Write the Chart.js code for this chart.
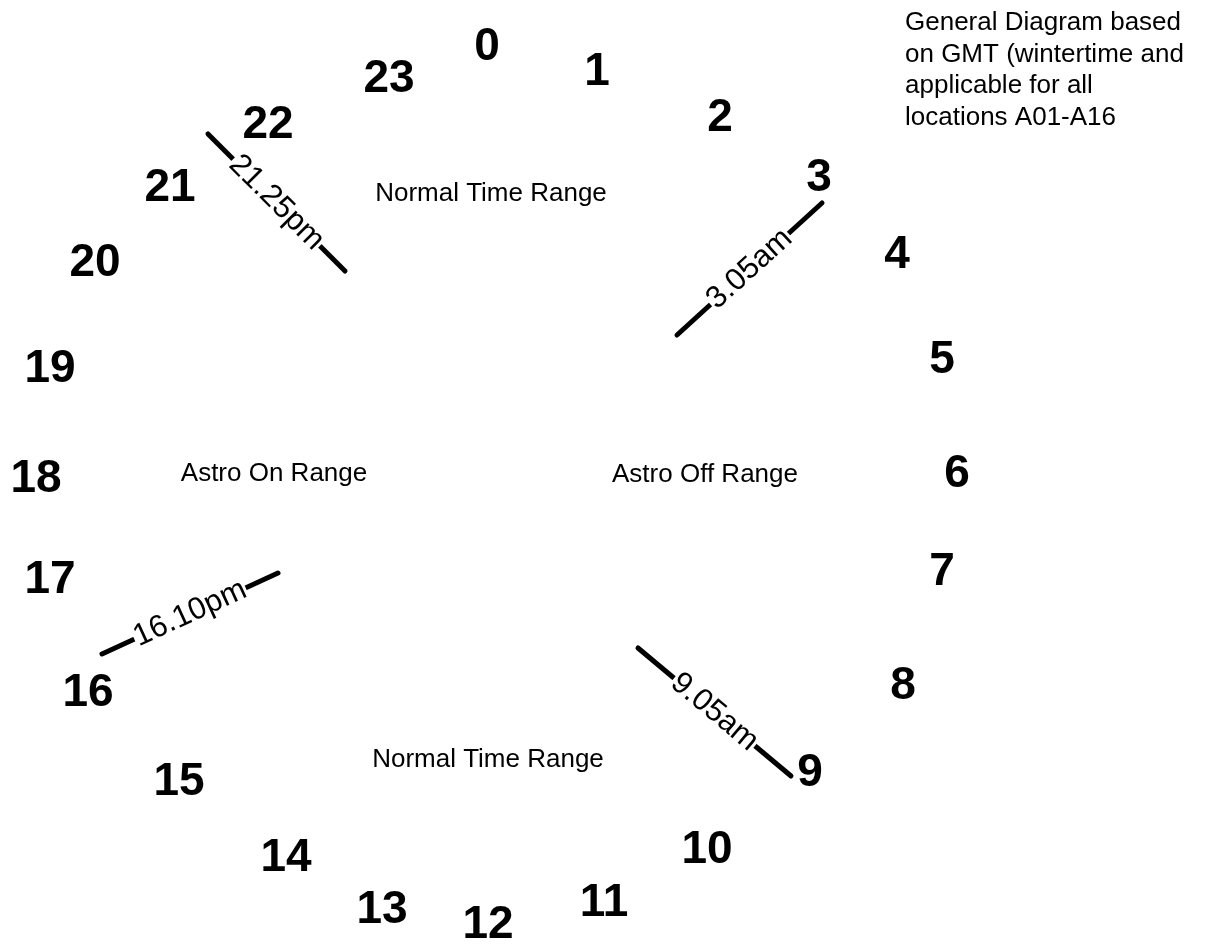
<!DOCTYPE html>
<html>
<head>
<meta charset="utf-8">
<title>Astro clock</title>
<script src="https://cdn.jsdelivr.net/npm/chart.js@4.4.1/dist/chart.umd.min.js"></script>
<style>
    html, body { margin: 0; padding: 0; background: #ffffff; }
    #wrap { position: relative; width: 1206px; height: 947px; }
</style>
</head>
<body>
<div id="wrap"><canvas id="clock-chart"></canvas></div>
<script>
const FONT = '"Liberation Sans", Arial, sans-serif';

// hour numbers round the dial (diagram units, y grows downwards)
const hourLabels = ['0', '1', '2', '3', '4', '5', '6', '7', '8', '9', '10', '11',
    '12', '13', '14', '15', '16', '17', '18', '19', '20', '21', '22', '23'];
const hourX = [487, 597, 720, 819, 897, 942, 957, 942, 903, 810, 707, 604,
    488, 382, 286, 179, 88, 50, 36, 50, 95, 170, 268, 389];
const hourY = [47, 72, 118, 178, 255, 360, 474, 572, 686, 773, 850, 903,
    925, 910, 858, 782, 693, 580, 479, 369, 263, 188, 125, 79];

// switch-over marks
const switchLabels = ['21.25pm', '3.05am', '16.10pm', '9.05am'];
const switchStartX = [208, 677, 102, 638];
const switchStartY = [134, 335, 654, 648];
const switchEndX = [345, 822, 278, 791];
const switchEndY = [271, 203, 573, 776];

// range names inside the dial
const rangeLabels = ['Normal Time Range', 'Astro On Range', 'Astro Off Range', 'Normal Time Range'];
const rangeX = [491, 274, 705, 488];
const rangeY = [194, 474, 475, 760];

const noteLines = ['General Diagram based', 'on GMT (wintertime and', 'applicable for all', 'locations A01-A16'];
const noteX = 905;
const noteY = [23, 54.5, 86, 117.5];

const hourPoints = hourLabels.map((h, i) => ({ x: hourX[i], y: hourY[i] }));

const switchDatasets = switchLabels.map((label, i) => ({
    type: 'line',
    label: label,
    data: [
        { x: switchStartX[i], y: switchStartY[i] },
        { x: switchEndX[i], y: switchEndY[i] }
    ],
    borderColor: '#000000',
    borderWidth: 5,
    borderCapStyle: 'round',
    pointRadius: 0,
    showLine: true,
    fill: false
}));

const textPlugin = {
    id: 'dialText',
    afterDatasetsDraw(chart) {
        const ctx = chart.ctx;
        const xs = chart.scales.x;
        const ys = chart.scales.y;
        ctx.save();
        ctx.fillStyle = '#000000';
        ctx.textBaseline = 'middle';

        // hour numbers
        ctx.font = 'bold 46px ' + FONT;
        ctx.textAlign = 'center';
        const meta = chart.getDatasetMeta(0);
        meta.data.forEach((pt, i) => {
            ctx.fillText(hourLabels[i], pt.x, pt.y);
        });

        // labels sitting on the switch lines
        ctx.font = '31px ' + FONT;
        switchLabels.forEach((label, i) => {
            const x1 = xs.getPixelForValue(switchStartX[i]);
            const y1 = ys.getPixelForValue(switchStartY[i]);
            const x2 = xs.getPixelForValue(switchEndX[i]);
            const y2 = ys.getPixelForValue(switchEndY[i]);
            let angle = Math.atan2(y2 - y1, x2 - x1);
            if (angle > Math.PI / 2) angle -= Math.PI;
            if (angle < -Math.PI / 2) angle += Math.PI;
            const w = ctx.measureText(label).width;
            ctx.save();
            ctx.translate((x1 + x2) / 2, (y1 + y2) / 2);
            ctx.rotate(angle);
            ctx.fillStyle = '#ffffff';
            ctx.fillRect(-w / 2 - 1, -8, w + 2, 16);
            ctx.fillStyle = '#000000';
            ctx.fillText(label, 0, 0);
            ctx.restore();
        });

        // range names
        ctx.font = '26px ' + FONT;
        rangeLabels.forEach((label, i) => {
            ctx.fillText(label, xs.getPixelForValue(rangeX[i]), ys.getPixelForValue(rangeY[i]));
        });

        // note in the corner
        ctx.textAlign = 'left';
        noteLines.forEach((line, i) => {
            ctx.fillText(line, xs.getPixelForValue(noteX), ys.getPixelForValue(noteY[i]));
        });
        ctx.restore();
    }
};

const ctx = document.getElementById('clock-chart').getContext('2d');
const clockChart = new Chart(ctx, {
    type: 'scatter',
    data: {
        datasets: [{
            label: 'Hours',
            data: hourPoints,
            pointRadius: 0,
            pointHoverRadius: 0
        }].concat(switchDatasets)
    },
    options: {
        responsive: true,
        maintainAspectRatio: false,
        animation: false,
        layout: { padding: 0 },
        plugins: {
            legend: { display: false },
            tooltip: { enabled: false }
        },
        scales: {
            x: { type: 'linear', min: 0, max: 1206, display: false },
            y: { type: 'linear', min: 0, max: 947, reverse: true, display: false }
        }
    },
    plugins: [textPlugin]
});
</script>
</body>
</html>
